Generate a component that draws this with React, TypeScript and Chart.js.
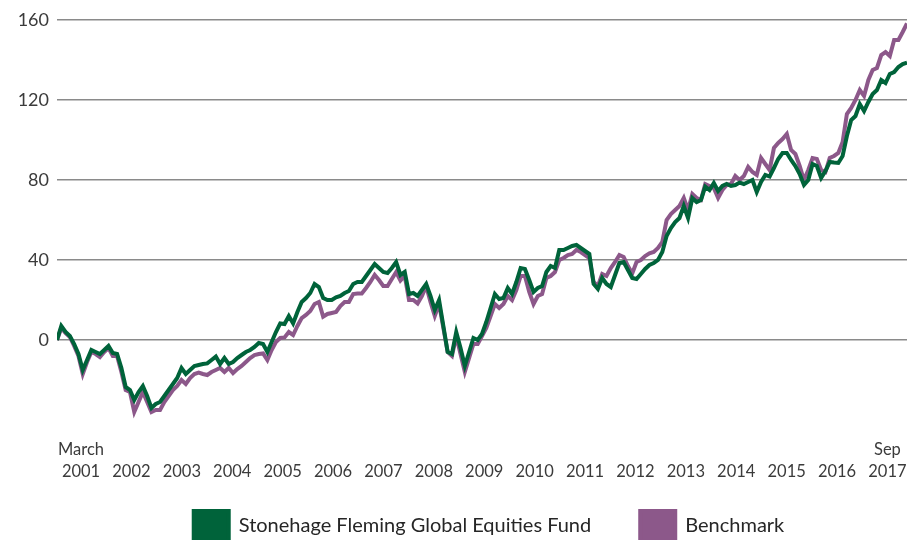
import React, { useEffect, useRef } from "react";
import { Chart, registerables } from "chart.js";

Chart.register(...registerables);

const FUND: number[] = [
  0, 7, 4, 2, -2, -7, -15, -10, -5, -6,
  -7, -5, -3, -6.5, -7, -14, -23.5, -25, -30, -26,
  -23, -28, -34, -32, -31, -28, -25, -22, -19, -14,
  -17, -15, -13, -12.5, -12, -11.7, -10, -8.3, -12, -9,
  -12, -11, -9, -7.5, -6, -5, -3.5, -1.5, -2, -6,
  -1, 4, 8.3, 8, 12, 8.3, 14, 19, 21, 23.5,
  28, 26.5, 21, 20, 20, 21.3, 22, 23.5, 24.5, 28,
  29, 29, 32, 35, 38, 36, 34, 33.5, 36, 39,
  32.5, 34, 23, 23.5, 22, 25, 28, 22, 15, 20,
  7, -6, -7, 4, -4, -13, -6, 1, 0, 3,
  9, 16, 23, 20.5, 21, 26, 23, 29, 36, 35.5,
  30, 24, 26, 27, 34, 37, 36, 45, 45, 46,
  47, 47.5, 46, 44.5, 43, 28, 25.5, 31, 28, 26.5,
  32.5, 38.5, 39, 35, 31, 30.5, 33, 35.5, 37.5, 38.5,
  40, 44, 52, 56, 59, 61, 67, 61, 71, 69,
  70, 76.7, 75, 78.5, 74.5, 77, 78, 77, 77.5, 78.7,
  78, 79, 80, 74, 79, 82.5, 81.7, 86, 90.5, 93.5,
  93.5, 90, 87, 83, 77.5, 80, 88, 87, 81, 84.5,
  89, 88.7, 88.5, 92, 102, 110, 112, 118, 114.5, 119,
  123, 125, 130, 128.5, 133, 134, 136.5, 138, 138.7,
];

const BENCHMARK: number[] = [
  0, 6, 3.5, 1.5, -3, -8, -17, -11, -6, -7,
  -8.5, -6, -4, -8, -8, -16, -25, -26, -36, -31,
  -26, -31, -36, -35, -35, -31, -28, -25, -23, -20,
  -22, -19, -17, -16.3, -17, -17.5, -16, -15, -14, -16,
  -14, -16.5, -14.5, -13, -11, -9, -7.5, -7, -6.7, -10,
  -5, -1, 1, 1.3, 4, 2.5, 7, 11, 12.5, 14.5,
  18, 19, 11.7, 13, 13.5, 14, 17, 19, 19, 23,
  23.3, 23.3, 26, 29, 32.5, 30, 27, 27, 30.5, 34,
  29.7, 32, 20, 20, 18.3, 22, 27, 19, 12, 18,
  6, -6, -8, 2, -7, -16, -9, -2, -2, 2,
  6, 12, 18, 16, 18, 22, 20, 25, 32, 32,
  24, 18, 22, 23, 31, 32, 34, 40, 41, 42.5,
  43, 45, 44, 42.5, 41, 29, 27, 33, 32, 36,
  39, 42.5, 41.5, 37, 33.3, 39, 40, 42, 43.3, 44,
  46, 49, 60, 63, 65, 67, 71, 65, 73, 71,
  70, 78, 77, 76, 71, 75, 77.5, 78, 82, 80,
  82, 86.5, 84, 82.5, 91, 88, 85, 96, 98.5, 100.5,
  103, 95, 93, 87, 80, 85, 91, 90.5, 85, 84,
  91, 92, 93.5, 99, 113, 116, 120, 125, 122, 130,
  135, 136, 142.5, 144, 142, 150, 150, 154, 158.3,
];

const YEAR_LABELS: string[] = [
  "2001", "2002", "2003", "2004", "2005", "2006", "2007", "2008", "2009",
  "2010", "2011", "2012", "2013", "2014", "2015", "2016", "2017",
];
const START_LABEL = "March";
const END_LABEL = "Sep";
const SERIES_NAMES = ["Stonehage Fleming Global Equities Fund", "Benchmark"];
const Y_MIN = -40;
const Y_MAX = 160;
const Y_STEP = 40;

const GREEN = "rgb(0,99,58)";
const PURPLE = "rgb(140,88,138)";
const FONT = "Lato, 'Open Sans', sans-serif";
const TEXT = "#3b3b3b";

const legendShift = {
  id: "legendShift",
  afterLayout(chart: any) {
    const l = chart.legend;
    if (!l) return;
    const dy = -38;
    const dx = 7;
    l.top += dy;
    l.bottom += dy;
    l.left += dx;
    l.right += dx;
  },
};

export default function App() {
  const ref = useRef<HTMLCanvasElement | null>(null);

  useEffect(() => {
    if (!ref.current) return;
    const lastIdx = FUND.length - 1;
    const yearStart = 5.6;
    const yearStep = 11.74;
    const chart = new Chart(ref.current, {
      type: "line",
      data: {
        datasets: [
          {
            label: SERIES_NAMES[0],
            data: FUND.map((v, i) => ({ x: i, y: v })),
            borderColor: GREEN,
            backgroundColor: GREEN,
            borderWidth: 4,
            pointRadius: 0,
            tension: 0,
            order: 0,
          },
          {
            label: SERIES_NAMES[1],
            data: BENCHMARK.map((v, i) => ({ x: i, y: v })),
            borderColor: PURPLE,
            backgroundColor: PURPLE,
            borderWidth: 4,
            pointRadius: 0,
            tension: 0,
            order: 1,
          },
        ],
      },
      plugins: [legendShift],
      options: {
        animation: false,
        responsive: false,
        devicePixelRatio: 1,
        layout: { padding: { left: 0, right: 1, top: 20, bottom: 0 } },
        plugins: {
          tooltip: { enabled: false },
          legend: {
            position: "bottom",
            fullSize: false,
            labels: {
              boxWidth: 35,
              boxHeight: 30,
              padding: 49,
              color: "#262626",
              font: { family: FONT, size: 20 },
            },
          },
        },
        scales: {
          x: {
            type: "linear",
            min: 0,
            max: lastIdx,
            border: { display: false },
            grid: { display: false, drawTicks: false },
            afterBuildTicks: (scale: any) => {
              scale.ticks = YEAR_LABELS.map((_, k) => ({ value: yearStart + yearStep * k }));
            },
            afterFit: (scale: any) => {
              scale.height = 80;
              scale.paddingLeft = 0;
              scale.paddingRight = 0;
            },
            ticks: {
              autoSkip: false,
              maxRotation: 0,
              minRotation: 0,
              padding: 19,
              color: TEXT,
              font: { family: FONT, size: 16.5, lineHeight: 1.3 },
              callback: (_v: any, index: number) => {
                const year = YEAR_LABELS[index];
                if (index === 0) return [START_LABEL, year];
                if (index === YEAR_LABELS.length - 1) return [END_LABEL, year];
                return ["", year];
              },
            },
          },
          y: {
            min: Y_MIN,
            max: Y_MAX,
            border: { display: false },
            grid: {
              drawTicks: false,
              lineWidth: 1.5,
              color: (ctx: any) => (ctx.tick && ctx.tick.value === Y_MIN ? "rgba(0,0,0,0)" : "#8a8a8a"),
            },
            afterFit: (scale: any) => {
              scale.width = 57;
              scale.paddingTop = 0;
              scale.paddingBottom = 0;
            },
            ticks: {
              stepSize: Y_STEP,
              padding: 8,
              color: TEXT,
              font: { family: FONT, size: 18 },
              callback: (v: any) => (v === Y_MIN ? "" : String(v)),
            },
          },
        },
      },
    });
    return () => chart.destroy();
  }, []);

  return (
    <canvas
      ref={ref}
      width={908}
      height={589}
      style={{ position: "fixed", left: 0, top: 0, width: 908, height: 589, background: "#fff" }}
    />
  );
}
